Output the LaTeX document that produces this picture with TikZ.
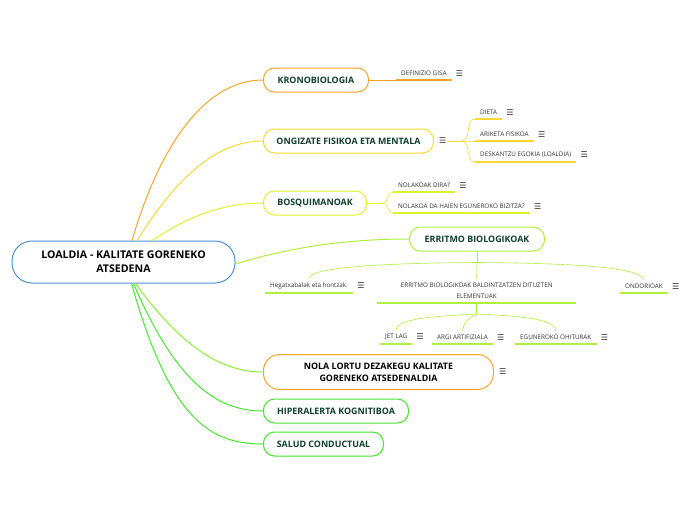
\documentclass[tikz,border=0pt]{standalone}
\usepackage{fontspec}
\setmainfont{Open Sans}
\newfontfamily\symfont{DejaVu Sans}
\usepackage{tikz}
\usetikzlibrary{positioning, calc}
\definecolor{rootblue}{RGB}{75,145,215}
\definecolor{mmorange}{RGB}{245,165,40}
\definecolor{mmyellow}{RGB}{250,215,50}
\definecolor{mmlime}{RGB}{222,242,40}
\definecolor{mmlgreen}{RGB}{175,240,60}
\definecolor{mmmid}{RGB}{140,238,50}
\definecolor{mmgreen}{RGB}{70,230,45}
\definecolor{topictext}{RGB}{18,62,45}
\definecolor{subtext}{RGB}{50,50,50}

\begin{document}
\begin{tikzpicture}[
  x=1pt, y=-1pt,
  root/.style={draw=rootblue, line width=1pt, fill=white, rounded corners=20pt,
               minimum width=223pt, minimum height=42pt, align=center,
               font=\fontsize{10.6}{14}\selectfont\bfseries},
  topic/.style={draw, line width=1pt, fill=white, rounded corners=11pt,
                minimum height=24pt, anchor=west, align=center,
                font=\fontsize{8.9}{12}\selectfont\bfseries, text=topictext},
  sub/.style={font=\fontsize{6.3}{11}\selectfont, text=subtext,
              inner xsep=5pt, inner ysep=4pt, anchor=south west},
  icon/.style={font=\symfont\fontsize{8}{8}\selectfont, inner sep=0pt, text=subtext},
  uline/.style={line width=1.6pt},
  link/.style={line width=1pt},
  twig/.style={line width=0.6pt},
]
\useasboundingbox (0,0) rectangle (696,520);

%% Central topic
\node[root] (root) at (123.5,262) {LOALDIA - KALITATE GORENEKO\\ATSEDENA};

%% Main topics
\node[topic, draw=mmorange, minimum width=105pt] (krono) at (263,80)  {KRONOBIOLOGIA};
\node[topic, draw=mmyellow, minimum width=170pt] (ongi)  at (263,141) {ONGIZATE FISIKOA ETA MENTALA};
\node[topic, draw=mmlime,   minimum width=103pt] (bosq)  at (263,203) {BOSQUIMANOAK};
\node[topic, draw=mmlgreen, minimum width=135pt] (erri)  at (409,239) {ERRITMO BIOLOGIKOAK};
\node[topic, draw=mmorange, minimum width=230pt, minimum height=35pt, rounded corners=16pt,
      text=black] (nola) at (263,372) {NOLA LORTU DEZAKEGU KALITATE\\GORENEKO ATSEDENALDIA};
\node[topic, draw=mmgreen,  minimum width=145pt] (hiper) at (263,411) {HIPERALERTA KOGNITIBOA};
\node[topic, draw=mmgreen,  minimum width=120pt] (salud) at (263,444) {SALUD CONDUCTUAL};

%% Sub topics
\node[sub] (defi)  at (396,80)  {DEFINIZIO GISA};
\node[sub] (dieta) at (475,119) {DIETA};
\node[sub] (arik)  at (475,141) {ARIKETA FISIKOA};
\node[sub] (desk)  at (475,162) {DESKANTZU EGOKIA (LOALDIA)};
\node[sub] (nolak) at (393,192) {NOLAKOAK DIRA?};
\node[sub] (haien) at (393,213) {NOLAKOA DA HAIEN EGUNEROKO BIZITZA?};
\node[sub] (hega)  at (265,293) {Hegatxabalak eta hontzak.};
\node[sub, minimum width=199pt, align=center] (elem) at (377,303)
  {ERRITMO BIOLOGIKOAK BALDINTZATZEN DITUZTEN\\ELEMENTUAK};
\node[sub] (ondo)  at (620,293) {ONDORIOAK};
\node[sub] (jet)   at (380,344) {JET LAG};
\node[sub] (argi)  at (432,344) {ARGI ARTIFIZIALA};
\node[sub] (egun)  at (515,344) {EGUNEROKO OHITURAK};

%% Note icons
\node[icon, right=4pt of defi]  (defii)  {☰};
\node[icon, right=4pt of dieta] (dietai) {☰};
\node[icon, right=4pt of arik]  (ariki)  {☰};
\node[icon, right=4pt of desk]  (deski)  {☰};
\node[icon, right=4pt of nolak] (nolaki) {☰};
\node[icon, right=4pt of haien] (haieni) {☰};
\node[icon, right=4pt of hega]  (hegai)  {☰};
\node[icon, right=4pt of ondo]  (ondoi)  {☰};
\node[icon, right=4pt of jet]   (jeti)   {☰};
\node[icon, right=4pt of argi]  (argii)  {☰};
\node[icon, right=4pt of egun]  (eguni)  {☰};
\node[icon, right=5pt of ongi]  (ongii)  {☰};
\node[icon, right=5pt of nola]  (nolai)  {☰};

%% Underlines
\foreach \n/\c in {defi/mmorange, dieta/mmyellow, arik/mmyellow, desk/mmyellow,
                   nolak/mmlime, haien/mmlime, hega/mmlgreen, elem/mmlgreen,
                   ondo/mmlgreen, jet/mmlgreen, argi/mmlgreen, egun/mmlgreen}
  \draw[uline, \c] (\n.south west) -- (\n.south east);

%% Branches from the central topic
\draw[link, mmorange] ([xshift=8.5pt]root.north)  .. controls (160,145) and (205,80)  .. (krono.west);
\draw[link, mmyellow] ([xshift=13.5pt]root.north) .. controls (172,185) and (212,141) .. (ongi.west);
\draw[link, mmlime]   ([xshift=28.5pt]root.north) .. controls (190,215) and (225,203) .. (bosq.west);
\draw[link, mmlgreen] ([yshift=-2pt]root.east)    .. controls (300,244) and (360,239) .. (erri.west);
\draw[link, mmmid]    ([xshift=12pt]root.south)   .. controls (180,345) and (220,372) .. (nola.west);
\draw[link, mmgreen]  ([xshift=10pt]root.south)   .. controls (175,380) and (215,411) .. (hiper.west);
\draw[link, mmgreen]  ([xshift=8pt]root.south)    .. controls (170,420) and (210,444) .. (salud.west);

%% Branches to sub topics
\draw[twig, mmorange] (krono.east) -- (defi.south west);
\draw[twig, mmyellow] (ongii.east) -- ++(15,0) coordinate (fo);
\foreach \n in {dieta, arik, desk}
  \draw[twig, mmyellow] (fo) to[out=0, in=180] (\n.south west);
\draw[twig, mmlime] (bosq.east) -- ++(16,0) coordinate (fb);
\foreach \n in {nolak, haien}
  \draw[twig, mmlime] (fb) to[out=0, in=180] (\n.south west);
\draw[twig, mmlgreen] (erri.south) -- ++(0,11) coordinate (fe);
\draw[twig, mmlgreen] (fe) .. controls (400,263) and (310,266) .. (hega.north);
\draw[twig, mmlgreen] (fe) -- (elem.north);
\draw[twig, mmlgreen] (fe) .. controls (555,263) and (643,266) .. (ondo.north);
\draw[twig, mmlgreen] (elem.south) -- ++(0,11) coordinate (fl);
\draw[twig, mmlgreen] (fl) .. controls (440,316) and (396,318) .. (jet.north);
\draw[twig, mmlgreen] (fl) .. controls (470,318) and (464,320) .. (argi.north);
\draw[twig, mmlgreen] (fl) .. controls (515,316) and (556,318) .. (egun.north);

\end{tikzpicture}
\end{document}
